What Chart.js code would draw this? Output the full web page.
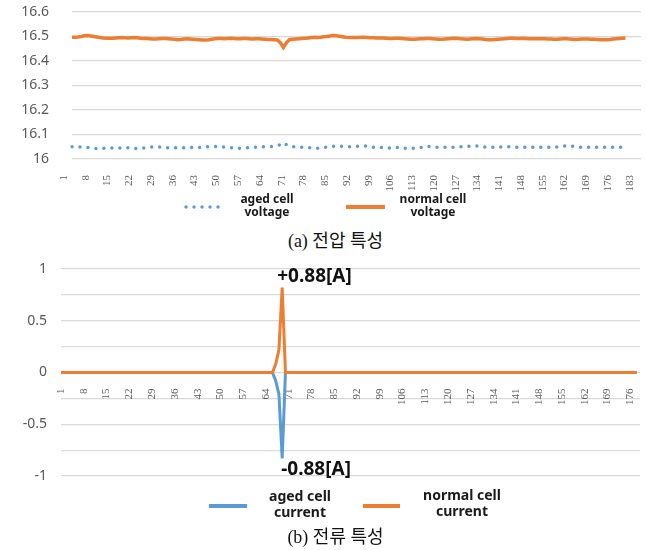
<!DOCTYPE html>
<html>
<head>
<meta charset="utf-8">
<script src="https://cdn.jsdelivr.net/npm/chart.js@4.4.1/dist/chart.umd.min.js"></script>
<style>
  body { margin: 0; background: #fff; width: 647px; height: 550px; position: relative; overflow: hidden; }
  .box { position: absolute; left: 0; width: 647px; }
  .cap { position: absolute; left: 12px; width: 647px; text-align: center; font-family: "Liberation Serif", "Noto Sans CJK KR", serif; font-size: 18px; color: #111; line-height: 24px; }
</style>
</head>
<body>
<div class="box" style="top:0;height:225px"><canvas id="voltChart"></canvas></div>
<div class="cap" style="top:229px">(a) 전압 특성</div>
<div class="box" style="top:250px;height:278px"><canvas id="currChart"></canvas></div>
<div class="cap" style="top:525px">(b) 전류 특성</div>
<script>
// sample numbers on the x axis
const voltLabels = Array.from({ length: 184 }, (_, i) => String(i + 1));
const currLabels = Array.from({ length: 179 }, (_, i) => String(i + 1));

const voltTickLabels = ['16', '16.1', '16.2', '16.3', '16.4', '16.5', '16.6'];
const currTickLabels = ['1', '0.5', '0', '-0.5', '-1'];

const voltNames = [['aged cell', 'voltage'], ['normal cell', 'voltage']];
const currNames = [['aged cell', 'current'], ['normal cell', 'current']];
const peakNotes = ['+0.88[A]', '-0.88[A]'];

const agedVoltage = [
  16.05, 16.05, 16.05, 16.049, 16.048, 16.047, 16.046, 16.044, 16.043, 16.043, 16.044, 16.045, 16.045, 16.045, 16.044,
  16.045, 16.046, 16.047, 16.046, 16.044, 16.043, 16.043, 16.044, 16.045, 16.046, 16.048, 16.05, 16.05, 16.049, 16.047,
  16.046, 16.046, 16.046, 16.046, 16.046, 16.046, 16.046, 16.046, 16.046, 16.047, 16.047, 16.047, 16.048, 16.049, 16.05,
  16.05, 16.051, 16.051, 16.05, 16.048, 16.047, 16.046, 16.045, 16.044, 16.044, 16.045, 16.046, 16.046, 16.047, 16.048,
  16.048, 16.049, 16.05, 16.05, 16.051, 16.052, 16.054, 16.058, 16.066, 16.058, 16.052, 16.05, 16.05, 16.049, 16.048,
  16.047, 16.046, 16.045, 16.044, 16.044, 16.045, 16.047, 16.049, 16.05, 16.052, 16.052, 16.052, 16.052, 16.051, 16.05,
  16.052, 16.052, 16.052, 16.053, 16.053, 16.052, 16.05, 16.048, 16.047, 16.047, 16.046, 16.046, 16.045, 16.045, 16.046,
  16.047, 16.046, 16.044, 16.043, 16.043, 16.044, 16.044, 16.046, 16.05, 16.052, 16.051, 16.05, 16.048, 16.048, 16.048,
  16.048, 16.048, 16.048, 16.048, 16.049, 16.05, 16.05, 16.051, 16.052, 16.054, 16.053, 16.052, 16.05, 16.049, 16.048,
  16.048, 16.048, 16.048, 16.049, 16.05, 16.05, 16.05, 16.049, 16.048, 16.048, 16.048, 16.048, 16.048, 16.048, 16.048,
  16.048, 16.048, 16.048, 16.048, 16.048, 16.048, 16.049, 16.05, 16.052, 16.054, 16.054, 16.052, 16.05, 16.049, 16.048,
  16.048, 16.048, 16.048, 16.048, 16.048, 16.048, 16.048, 16.048, 16.048, 16.048, 16.048, 16.048, 16.048, 16.048
];

const normalVoltage = [
  16.497, 16.497, 16.498, 16.5, 16.503, 16.504, 16.502, 16.5, 16.498, 16.496, 16.494, 16.493, 16.493, 16.493, 16.494,
  16.495, 16.496, 16.495, 16.494, 16.495, 16.496, 16.495, 16.493, 16.492, 16.492, 16.491, 16.49, 16.49, 16.491, 16.492,
  16.492, 16.491, 16.49, 16.489, 16.487, 16.488, 16.49, 16.491, 16.49, 16.489, 16.488, 16.487, 16.486, 16.486, 16.487,
  16.489, 16.491, 16.492, 16.492, 16.491, 16.492, 16.493, 16.492, 16.491, 16.491, 16.492, 16.492, 16.491, 16.49, 16.491,
  16.491, 16.49, 16.489, 16.488, 16.488, 16.487, 16.486, 16.475, 16.455, 16.475, 16.488, 16.489, 16.49, 16.491, 16.492,
  16.493, 16.494, 16.496, 16.497, 16.496, 16.497, 16.499, 16.5, 16.502, 16.504, 16.503, 16.501, 16.499, 16.497, 16.496,
  16.496, 16.496, 16.496, 16.497, 16.497, 16.496, 16.495, 16.495, 16.494, 16.494, 16.494, 16.493, 16.492, 16.492, 16.493,
  16.493, 16.492, 16.491, 16.49, 16.489, 16.489, 16.49, 16.491, 16.491, 16.492, 16.492, 16.491, 16.49, 16.489, 16.489,
  16.49, 16.491, 16.492, 16.493, 16.492, 16.491, 16.49, 16.489, 16.49, 16.491, 16.492, 16.491, 16.49, 16.488, 16.487,
  16.487, 16.488, 16.489, 16.49, 16.491, 16.492, 16.493, 16.493, 16.492, 16.492, 16.493, 16.492, 16.491, 16.491, 16.491,
  16.491, 16.491, 16.491, 16.49, 16.49, 16.489, 16.489, 16.49, 16.491, 16.491, 16.49, 16.489, 16.488, 16.489, 16.49,
  16.49, 16.49, 16.489, 16.489, 16.488, 16.487, 16.487, 16.487, 16.488, 16.49, 16.491, 16.492, 16.493, 16.494
];

const agedCurrent = [
  0, 0, 0, 0, 0, 0, 0, 0, 0, 0,
  0, 0, 0, 0, 0, 0, 0, 0, 0, 0,
  0, 0, 0, 0, 0, 0, 0, 0, 0, 0,
  0, 0, 0, 0, 0, 0, 0, 0, 0, 0,
  0, 0, 0, 0, 0, 0, 0, 0, 0, 0,
  0, 0, 0, 0, 0, 0, 0, 0, 0, 0,
  0, 0, 0, 0, 0, 0, -0.08, -0.21, -0.83, 0,
  0, 0, 0, 0, 0, 0, 0, 0, 0, 0,
  0, 0, 0, 0, 0, 0, 0, 0, 0, 0,
  0, 0, 0, 0, 0, 0, 0, 0, 0, 0,
  0, 0, 0, 0, 0, 0, 0, 0, 0, 0,
  0, 0, 0, 0, 0, 0, 0, 0, 0, 0,
  0, 0, 0, 0, 0, 0, 0, 0, 0, 0,
  0, 0, 0, 0, 0, 0, 0, 0, 0, 0,
  0, 0, 0, 0, 0, 0, 0, 0, 0, 0,
  0, 0, 0, 0, 0, 0, 0, 0, 0, 0,
  0, 0, 0, 0, 0, 0, 0, 0, 0, 0,
  0, 0, 0, 0, 0, 0, 0, 0
];

const normalCurrent = [
  0, 0, 0, 0, 0, 0, 0, 0, 0, 0,
  0, 0, 0, 0, 0, 0, 0, 0, 0, 0,
  0, 0, 0, 0, 0, 0, 0, 0, 0, 0,
  0, 0, 0, 0, 0, 0, 0, 0, 0, 0,
  0, 0, 0, 0, 0, 0, 0, 0, 0, 0,
  0, 0, 0, 0, 0, 0, 0, 0, 0, 0,
  0, 0, 0, 0, 0, 0, 0.08, 0.22, 0.82, 0,
  0, 0, 0, 0, 0, 0, 0, 0, 0, 0,
  0, 0, 0, 0, 0, 0, 0, 0, 0, 0,
  0, 0, 0, 0, 0, 0, 0, 0, 0, 0,
  0, 0, 0, 0, 0, 0, 0, 0, 0, 0,
  0, 0, 0, 0, 0, 0, 0, 0, 0, 0,
  0, 0, 0, 0, 0, 0, 0, 0, 0, 0,
  0, 0, 0, 0, 0, 0, 0, 0, 0, 0,
  0, 0, 0, 0, 0, 0, 0, 0, 0, 0,
  0, 0, 0, 0, 0, 0, 0, 0, 0, 0,
  0, 0, 0, 0, 0, 0, 0, 0, 0, 0,
  0, 0, 0, 0, 0, 0, 0, 0
];

const BLUE = '#5b9bd5';
const ORANGE = '#ed7d31';
const GRID = '#d9d9d9';
const TICK = '#595959';

// two-line legend drawn under the plot
const cellLegend = {
  id: 'cellLegend',
  afterDraw(chart, args, opts) {
    const ctx = chart.ctx;
    ctx.save();
    chart.data.datasets.forEach((ds, i) => {
      const it = opts.items[i];
      ctx.strokeStyle = ds.borderColor;
      ctx.fillStyle = ds.borderColor;
      if (ds.borderDash && ds.borderDash.length) {
        for (let x = it.x0; x <= it.x1; x += 8) {
          ctx.beginPath();
          ctx.arc(x, it.y, 1.7, 0, Math.PI * 2);
          ctx.fill();
        }
      } else {
        ctx.lineWidth = 4;
        ctx.beginPath();
        ctx.moveTo(it.x0, it.y);
        ctx.lineTo(it.x1, it.y);
        ctx.stroke();
      }
      ctx.fillStyle = '#1a1a1a';
      ctx.font = 'bold ' + opts.size + 'px "Noto Sans", sans-serif';
      ctx.textAlign = 'center';
      ctx.textBaseline = 'middle';
      opts.names[i].forEach((line, k) => ctx.fillText(line, it.tx, it.ty + k * opts.gap));
    });
    ctx.restore();
  }
};

// "+0.88[A]" / "-0.88[A]" next to the spikes
const peakLabels = {
  id: 'peakLabels',
  afterDatasetsDraw(chart, args, opts) {
    if (!opts.notes) return;
    const ctx = chart.ctx;
    ctx.save();
    ctx.font = 'bold 19px "Noto Sans", sans-serif';
    ctx.fillStyle = '#111';
    ctx.textAlign = 'left';
    ctx.textBaseline = 'middle';
    opts.notes.forEach(n => {
      const data = chart.data.datasets[n.dataset].data;
      const target = n.max ? Math.max(...data) : Math.min(...data);
      const idx = data.indexOf(target);
      const px = chart.scales.x.getPixelForValue(idx);
      const py = chart.scales.y.getPixelForValue(target);
      ctx.fillText(n.text, px + n.dx, py + n.dy);
    });
    ctx.restore();
  }
};

const xTickFont = { family: '"Liberation Serif", serif', size: 11 };
const yTickFont = { family: '"Noto Sans", sans-serif', size: 14 };

// keep the plot box where it is: no extra room for the tick labels
function fixX(height) {
  return axis => {
    axis.height = height;
    axis.paddingLeft = 0;
    axis.paddingRight = 0;
  };
}
function fixY(width) {
  return axis => {
    axis.width = width;
    axis.paddingTop = 0;
    axis.paddingBottom = 0;
  };
}

new Chart(document.getElementById('voltChart'), {
  type: 'line',
  data: {
    labels: voltLabels,
    datasets: [{
      label: voltNames[0].join(' '),
      data: agedVoltage,
      borderColor: BLUE,
      borderWidth: 3.5,
      borderDash: [0, 8],
      borderCapStyle: 'round',
      pointRadius: 0,
      tension: 0
    }, {
      label: voltNames[1].join(' '),
      data: normalVoltage,
      borderColor: ORANGE,
      borderWidth: 3.5,
      pointRadius: 0,
      tension: 0
    }]
  },
  options: {
    responsive: true,
    maintainAspectRatio: false,
    animation: false,
    events: [],
    layout: { padding: { top: 12, right: 6, bottom: 34, left: 0 } },
    scales: {
      x: {
        offset: false,
        grid: { display: false },
        border: { display: false },
        ticks: {
          autoSkip: false,
          minRotation: 90,
          maxRotation: 90,
          padding: 8,
          labelOffset: -8,
          color: TICK,
          font: xTickFont,
          callback: function (value, index) {
            return index % 7 === 0 ? this.getLabelForValue(value) : '';
          }
        },
        afterFit: fixX(32)
      },
      y: {
        min: 16,
        max: 16.6,
        grid: { color: GRID, lineWidth: 1.2, drawTicks: false },
        border: { display: false },
        ticks: {
          stepSize: 0.1,
          padding: 23,
          color: TICK,
          font: yTickFont,
          callback: (value, index) => voltTickLabels[index]
        },
        afterFit: fixY(72)
      }
    },
    plugins: {
      legend: { display: false },
      tooltip: { enabled: false },
      cellLegend: {
        names: voltNames,
        size: 12,
        gap: 13,
        items: [
          { x0: 186, x1: 224, y: 207, tx: 267, ty: 200 },
          { x0: 346, x1: 385, y: 207, tx: 433, ty: 200 }
        ]
      }
    }
  },
  plugins: [cellLegend]
});

new Chart(document.getElementById('currChart'), {
  type: 'line',
  data: {
    labels: currLabels,
    datasets: [{
      label: currNames[0].join(' '),
      data: agedCurrent,
      borderColor: BLUE,
      borderWidth: 3,
      pointRadius: 0,
      tension: 0,
      order: 1
    }, {
      label: currNames[1].join(' '),
      data: normalCurrent,
      borderColor: ORANGE,
      borderWidth: 3,
      pointRadius: 0,
      tension: 0,
      order: 0
    }]
  },
  options: {
    responsive: true,
    maintainAspectRatio: false,
    animation: false,
    events: [],
    layout: { padding: { top: 19, right: 7, bottom: 52, left: 0 } },
    scales: {
      x: {
        position: { y: 0 },
        offset: false,
        grid: { display: false },
        border: { display: false },
        ticks: {
          autoSkip: false,
          minRotation: 90,
          maxRotation: 90,
          padding: 8,
          color: TICK,
          font: xTickFont,
          callback: function (value, index) {
            return index % 7 === 0 ? this.getLabelForValue(value) : '';
          }
        },
        afterFit: fixX(0)
      },
      y: {
        min: -1,
        max: 1,
        grid: { color: GRID, lineWidth: 1.2, drawTicks: false },
        border: { display: false },
        ticks: {
          stepSize: 0.25,
          padding: 14,
          color: TICK,
          font: yTickFont,
          callback: value => currTickLabels.includes(String(value)) ? String(value) : ''
        },
        afterFit: fixY(61)
      }
    },
    plugins: {
      legend: { display: false },
      tooltip: { enabled: false },
      cellLegend: {
        names: currNames,
        size: 14,
        gap: 16,
        items: [
          { x0: 209, x1: 247, y: 256, tx: 300, ty: 247 },
          { x0: 363, x1: 400, y: 256, tx: 462, ty: 246 }
        ]
      },
      peakLabels: {
        notes: [
          { dataset: 1, max: true, text: peakNotes[0], dx: -5, dy: -11 },
          { dataset: 0, max: false, text: peakNotes[1], dx: -1, dy: 11 }
        ]
      }
    }
  },
  plugins: [cellLegend, peakLabels]
});
</script>
</body>
</html>
